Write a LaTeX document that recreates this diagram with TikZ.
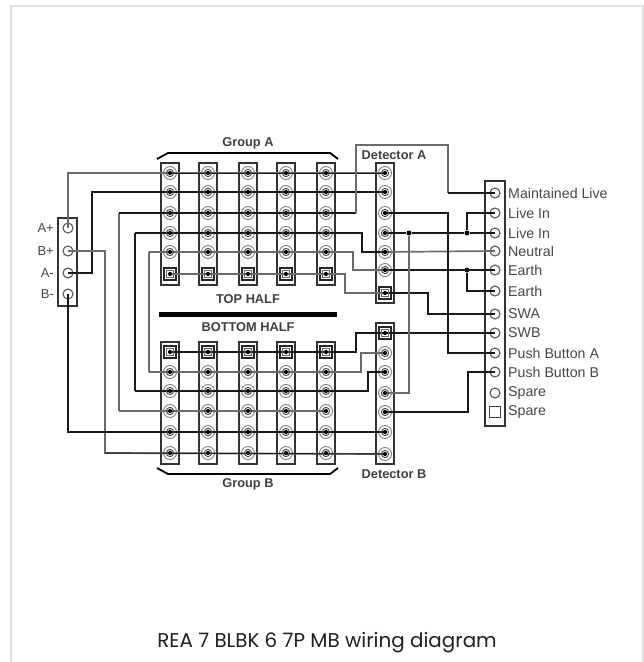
\documentclass[tikz,border=0pt]{standalone}
\usepackage{fontspec}
\usetikzlibrary{calc}
\setmainfont{Liberation Sans}
\newfontfamily\capfont{Poppins}
\tikzset{
 wblk/.style={draw=black!90,line width=1.5bp},
 wgry/.style={draw=black!58,line width=1.7bp},
 strip/.style={draw=black!80,line width=1.4bp,rectangle,minimum width=18bp,inner sep=0pt},
 tc/.style={circle,draw=black!50,line width=.9bp,minimum size=13bp,inner sep=0pt},
 ts/.style={rectangle,draw=black!85,line width=1.3bp,minimum size=12bp,inner sep=0pt},
 tl/.style={circle,draw=black!65,line width=1.1bp,minimum size=10bp,inner sep=0pt},
 lab/.style={font=\fontsize{14.2bp}{15bp}\selectfont,text=black!72,anchor=west,inner sep=0pt},
 llab/.style={font=\fontsize{13bp}{14bp}\selectfont,text=black!72,anchor=east,inner sep=0pt},
 blab/.style={font=\fontsize{12.8bp}{14bp}\selectfont\bfseries,text=black!75,inner sep=0pt},
 jn/.style={circle,fill=black,inner sep=0pt,minimum size=5bp},
 ring/.style={draw=black!75,line width=.9bp},
}
\newcommand{\tdot}[1]{\draw[ring] (#1) circle (3.6);\fill[black] (#1) circle (2.1);}
\newcommand{\sdot}[1]{\draw[black!60,line width=.8bp] ($(#1)+(-3.4,-3.4)$) rectangle ($(#1)+(3.4,3.4)$);\fill[black] (#1) circle (2.1);}
\begin{document}
\begin{tikzpicture}[x=1bp,y=-1bp]
\useasboundingbox (0,0) rectangle (644,662);
\fill[white] (0,0) rectangle (644,662);
\draw[black!12,line width=2bp] (11,662) -- (11,6.5) -- (643,6.5) -- (643,662);
% strips
\foreach \n/\x in {1/170,2/208,3/248,4/286,5/326}{
  \node[strip,minimum height=122bp] (sa\n) at (\x,224) {};
  \node[strip,minimum height=122bp] (sb\n) at (\x,403) {};
  \foreach \r/\y in {1/173,2/192,3/213,4/233,5/252}{
    \node[tc] (a\n\r) at (\x,\y) {};
  }
  \node[ts] (a\n6) at (\x,274) {};
  \node[ts] (b\n1) at (\x,352) {};
  \foreach \r/\y in {2/372,3/391,4/411,5/432,6/453}{
    \node[tc] (b\n\r) at (\x,\y) {};
  }
}
% detectors
\node[strip,minimum height=140bp] (dA) at (385,233) {};
\node[strip,minimum height=141bp] (dB) at (385,393.5) {};
\foreach \r/\y in {1/173,2/192,3/213,4/233,5/252,6/270}{
  \node[tc] (da\r) at (385,\y) {};
}
\node[ts] (da7) at (385,293) {};
\node[ts] (db1) at (385,333) {};
\foreach \r/\y in {2/353,3/372,4/393,5/412,6/432,7/454}{
  \node[tc] (db\r) at (385,\y) {};
}
% left block
\node[strip,minimum width=19bp,minimum height=88bp] (lb) at (67.5,262) {};
\foreach \r/\y/\t in {1/228/A+,2/251/B+,3/273/A-,4/294/B-}{
  \node[tl] (l\r) at (68,\y) {};
  \node[llab] (ll\r) at (54,\y) {\t};
}
% right block
\node[strip,minimum width=20bp,minimum height=245bp] (rb) at (495,303.5) {};
\foreach \r/\y/\t in {1/193/Maintained Live,2/213/Live In,3/233/Live In,4/251/Neutral,5/270/Earth,6/291/Earth,7/314/SWA,8/333/SWB,9/353/Push Button A,10/372/Push Button B,11/393/Spare}{
  \node[tl] (r\r) at (495,\y) {};
  \node[lab] (rl\r) at (508,\y) {\t};
}
\node[rectangle,draw=black!75,line width=1.3bp,minimum size=11bp,inner sep=0pt] (r12) at (495,412) {};
\node[lab] (rl12) at (508,412) {Spare};
% bend points
\coordinate (k1) at (92,192);
\coordinate (k2) at (105,453);
\coordinate (k3) at (119,213);
\coordinate (k3b) at (119,411);
\coordinate (k4) at (135,233);
\coordinate (k4b) at (135,391);
\coordinate (k5) at (149,252);
\coordinate (k5b) at (149,372);
\coordinate (m1) at (356,213);
\coordinate (m2) at (356,145);
\coordinate (m3) at (448,145);
\coordinate (m4) at (362,233);
\coordinate (m5) at (362,252);
\coordinate (m6) at (353,252);
\coordinate (m7) at (353,270);
\coordinate (m8) at (345,274);
\coordinate (m9) at (345,293);
\coordinate (n1) at (356,352);
\coordinate (n2) at (356,333);
\coordinate (n3) at (361,372);
\coordinate (n4) at (361,353);
\coordinate (n5) at (368,391);
\coordinate (n6) at (368,372);
\coordinate (q1) at (428,293);
\coordinate (q2) at (448,213);
\coordinate (q3) at (468,412);
% junctions
\node[jn] (j1) at (409,233) {};
\node[jn] (j2) at (467,233) {};
\node[jn] (j3) at (467,270) {};
% wires
\draw[wgry] (l1.center) |- (da1.center);
\draw[wblk,line width=1bp] (a11.center) -- (da1.center);
\draw[wblk] (l3.center) -| (k1) -- (da2.center);
\draw[wgry] (l2.center) -| (k2) -- (db7.center);
\draw[wblk,line width=1bp] (k2) -- (db7.center);
\draw[wblk] (l4.center) |- (db6.center);
\draw[wgry] (k3) -- (k3b);
\draw[wblk] (k3) -- (m1);
\draw[wgry] (m1) -- (m2) -- (m3) -- (m3 |- r1.center);
\draw[wblk] (m3 |- r1.center) -- (r1.center);
\draw[wgry] (k3b) -- (a53.center |- k3b);
\draw[wblk] (k4) -- (k4b);
\draw[wblk] (k4) -- (m4) -- (m5) -- (da5.center);
\draw[wgry] (da5.center) -- (r4.center);
\draw[wblk] (k4b) -- (n5) -- (n6) -- (db3.center);
\draw[wgry] (k5) -- (k5b);
\draw[wgry] (k5) -- (m6) -- (m7) -- (da6.center);
\draw[wblk] (da6.center) -- (r5.center);
\draw[wgry] (k5b) -- (n3) -- (n4) -- (db2.center);
\draw[wgry] (a16.center) -- (m8) -- (m9) -- (da7.center);
\draw[wblk,line width=1.1bp] (da7.center) -- (q1) |- (r7.center);
\draw[wblk] (b11.center) -- (n1) -- (n2) -- (db1.center) -- (r8.center);
\draw[wblk] (da3.center) -- (q2) |- (r9.center);
\draw[wblk] (da4.center) -- (j1) -- (j2) -- (r3.center);
\draw[wblk] (j2) |- (r2.center);
\draw[wblk] (j3) |- (r6.center);
\draw[wgry] (j1) |- (db4.center);
\draw[wblk] (db5.center) -- (q3) |- (r10.center);
% terminal centres, over the wires
\foreach \n in {1,...,5}{
  \foreach \r in {1,...,5}{\tdot{a\n\r}}
  \sdot{a\n6}
  \sdot{b\n1}
  \foreach \r in {2,...,6}{\tdot{b\n\r}}
}
\foreach \r in {1,...,6}{\tdot{da\r}}
\sdot{da7}
\sdot{db1}
\foreach \r in {2,...,7}{\tdot{db\r}}
% brackets and bar
\coordinate (ga0) at (157,159); \coordinate (ga1) at (168,153);
\coordinate (ga2) at (330,153); \coordinate (ga3) at (338,159);
\coordinate (gb0) at (157,468); \coordinate (gb1) at (168,474);
\coordinate (gb2) at (330,474); \coordinate (gb3) at (338,468);
\draw[black,line width=1.8bp] (ga0) -- (ga1) -- (ga2) -- (ga3);
\draw[black,line width=1.8bp] (gb0) -- (gb1) -- (gb2) -- (gb3);
\node[rectangle,fill=black,minimum width=178bp,minimum height=5bp,inner sep=0pt] (bar) at (248,314) {};
\node[blab] (tga) at (248,143) {Group A};
\node[blab] (tgb) at (248,484) {Group B};
\node[blab] (tth) at (248,299) {TOP HALF};
\node[blab] (tbh) at (248,327) {BOTTOM HALF};
\node[blab] (tda) at (394,155) {Detector A};
\node[blab] (tdb) at (394,474) {Detector B};
\node[font=\capfont\fontsize{19.9bp}{22bp}\selectfont,text=black!88,inner sep=0pt] (cap) at (327,643) {REA 7 BLBK 6 7P MB wiring diagram};
\end{tikzpicture}
\end{document}
